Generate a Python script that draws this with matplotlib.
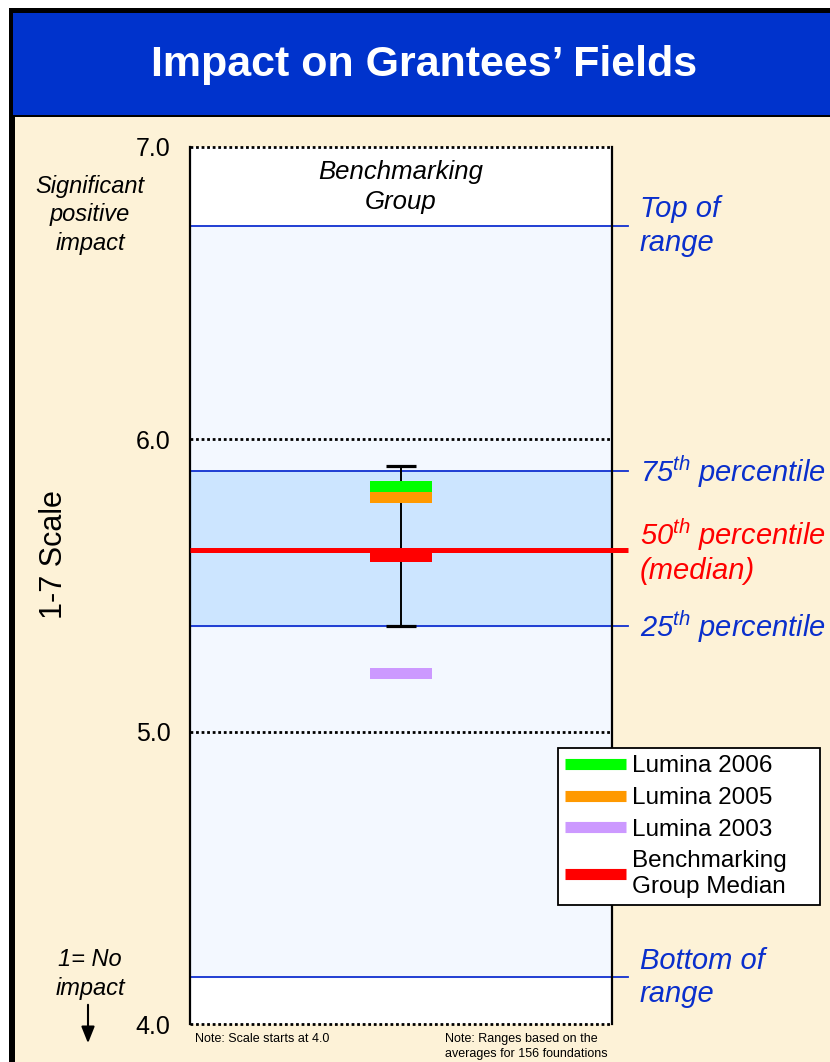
import matplotlib.pyplot as plt
from matplotlib.patches import Rectangle
from matplotlib.lines import Line2D

plt.rcParams['font.family'] = ['Liberation Sans', 'DejaVu Sans']
plt.rcParams['mathtext.fontset'] = 'custom'
plt.rcParams['mathtext.rm'] = 'Liberation Sans'
plt.rcParams['mathtext.it'] = 'Liberation Sans:italic'
plt.rcParams['mathtext.default'] = 'it'

# 1-7 scale, shown from 4.0 up
scale_ticks = [4.0, 5.0, 6.0, 7.0]
tick_labels = ['4.0', '5.0', '6.0', '7.0']

# benchmarking group distribution
range_bottom = 4.16
pct25 = 5.36
median = 5.62
pct75 = 5.89
range_top = 6.73

# whisker for the benchmarking group
err_low = 5.36
err_high = 5.91
err_mid = 5.60

# scores
series_labels = ['Lumina 2006', 'Lumina 2005', 'Lumina 2003', 'Benchmarking\nGroup Median']
series_values = [5.84, 5.80, 5.20, 5.60]
series_colors = ['#00FF00', '#FF9900', '#CC99FF', '#FF0000']

W, H = 830, 1062
BLUE = '#0033CC'
TXT_BLUE = '#0A2FCC'
BEIGE = '#FDF2D7'


def fx(x):
    return x / W


def fy(y):
    return 1 - y / H


fig = plt.figure(figsize=(W / 100, H / 100), dpi=100, facecolor='white')

# frame, header and panel
fig.add_artist(Rectangle((fx(9), 0), fx(W - 9), fy(8), transform=fig.transFigure,
                         facecolor='black', edgecolor='none', zorder=-10))
fig.add_artist(Rectangle((fx(13), fy(115)), fx(W - 13), fy(13) - fy(115), transform=fig.transFigure,
                         facecolor=BLUE, edgecolor='none', zorder=-9))
fig.add_artist(Rectangle((fx(15), 0), fx(W - 15), fy(117), transform=fig.transFigure,
                         facecolor=BEIGE, edgecolor='none', zorder=-9))
fig.text(fx(424), fy(65), 'Impact on Grantees\u2019 Fields', color='white', fontsize=31,
         fontweight='bold', ha='center', va='center')

ax = fig.add_axes([fx(190), fy(1024), fx(612 - 190), fy(147) - fy(1024)])
ax.set_facecolor('white')
ax.set_xlim(0, 1)
ax.set_ylim(4.0, 7.0)

ax.axhspan(range_bottom, range_top, color='#F3F8FF', zorder=0)
ax.axhspan(pct25, pct75, color='#CCE5FF', zorder=0.5)

for v in scale_ticks:
    ax.axhline(v, color='black', lw=2, linestyle=(0, (1, 1)), zorder=2, clip_on=False)

yx = ax.get_yaxis_transform()
for v in [range_top, pct75, pct25, range_bottom]:
    ax.plot([0, 1.038], [v, v], transform=yx, color='#1030D0', lw=1.3, clip_on=False, zorder=2.5)
ax.plot([0, 1.038], [median, median], transform=yx, color='#FF0000', lw=3.6,
        clip_on=False, solid_capstyle='butt', zorder=5)

ax.errorbar(0.5, err_mid, yerr=[[err_mid - err_low], [err_high - err_mid]], fmt='none',
            ecolor='black', elinewidth=1.4, capsize=11, capthick=2.3, zorder=3)

bar_h = 0.038
for val, col in zip(series_values, series_colors):
    ax.bar(0.5, bar_h, bottom=val - bar_h / 2, width=0.147, color=col, zorder=4)

for side in ['top', 'bottom']:
    ax.spines[side].set_visible(False)
for side in ['left', 'right']:
    ax.spines[side].set_linewidth(1.6)
ax.set_xticks([])
ax.set_yticks(scale_ticks, tick_labels)
ax.tick_params(axis='y', length=0, pad=14, labelsize=18)

ax.text(0.5, 6.862, 'Benchmarking\nGroup', ha='center', va='center', fontsize=18.5,
        style='italic', linespacing=1.3)

# labels to the right of the range lines
side_x = 1.066
ax.text(side_x, range_top, 'Top of\nrange', transform=yx, color=TXT_BLUE, fontsize=21,
        style='italic', va='center', ha='left', linespacing=1.24)
ax.text(side_x, pct75, '75$^{th}$ percentile', transform=yx, color=TXT_BLUE, fontsize=21,
        style='italic', va='center', ha='left')
ax.text(side_x, median, '50$^{th}$ percentile\n(median)', transform=yx, color='#FF0000',
        fontsize=21, style='italic', va='center', ha='left', linespacing=1.18)
ax.text(side_x, pct25, '25$^{th}$ percentile', transform=yx, color=TXT_BLUE, fontsize=21,
        style='italic', va='center', ha='left')
ax.text(side_x, range_bottom, 'Bottom of\nrange', transform=yx, color=TXT_BLUE, fontsize=21,
        style='italic', va='center', ha='left', linespacing=1.24)

# left side annotations
fig.text(fx(90), fy(215), 'Significant\npositive\nimpact', ha='center', va='center',
         fontsize=17, style='italic', linespacing=1.28)
fig.text(fx(90), fy(974), '1= No\nimpact', ha='center', va='center',
         fontsize=17, style='italic', linespacing=1.28)
fig.text(fx(54), fy(555), '1-7 Scale', rotation=90, ha='center', va='center', fontsize=22)
plt.annotate('', xy=(fx(88), fy(1046)), xytext=(fx(88), fy(1002)), xycoords='figure fraction',
             textcoords='figure fraction',
             arrowprops=dict(arrowstyle='-|>,head_length=1.0,head_width=0.4', color='black', lw=1.5))

# notes under the chart
fig.text(fx(195), fy(1042), 'Note: Scale starts at 4.0', fontsize=9, va='baseline')
fig.text(fx(445), fy(1042), 'Note: Ranges based on the', fontsize=9, va='baseline')
fig.text(fx(445), fy(1057), 'averages for 156 foundations', fontsize=9, va='baseline')

handles = [Line2D([], [], color=c, lw=8, solid_capstyle='butt') for c in series_colors]
leg = fig.legend(handles, series_labels, loc='upper left',
                 bbox_to_anchor=(fx(558), fy(906), fx(820 - 558), fy(748) - fy(906)),
                 bbox_transform=fig.transFigure, mode='expand', borderaxespad=0, fontsize=17.5,
                 frameon=True, fancybox=False, framealpha=1, edgecolor='black', borderpad=0.3,
                 handlelength=2.5, handletextpad=0.25, labelspacing=0.4)
leg.get_frame().set_linewidth(1.3)
for t in leg.get_texts():
    t.set_linespacing(1.2)
leg.set_zorder(10)

fig.savefig('out.png', dpi=100, facecolor=fig.get_facecolor())
